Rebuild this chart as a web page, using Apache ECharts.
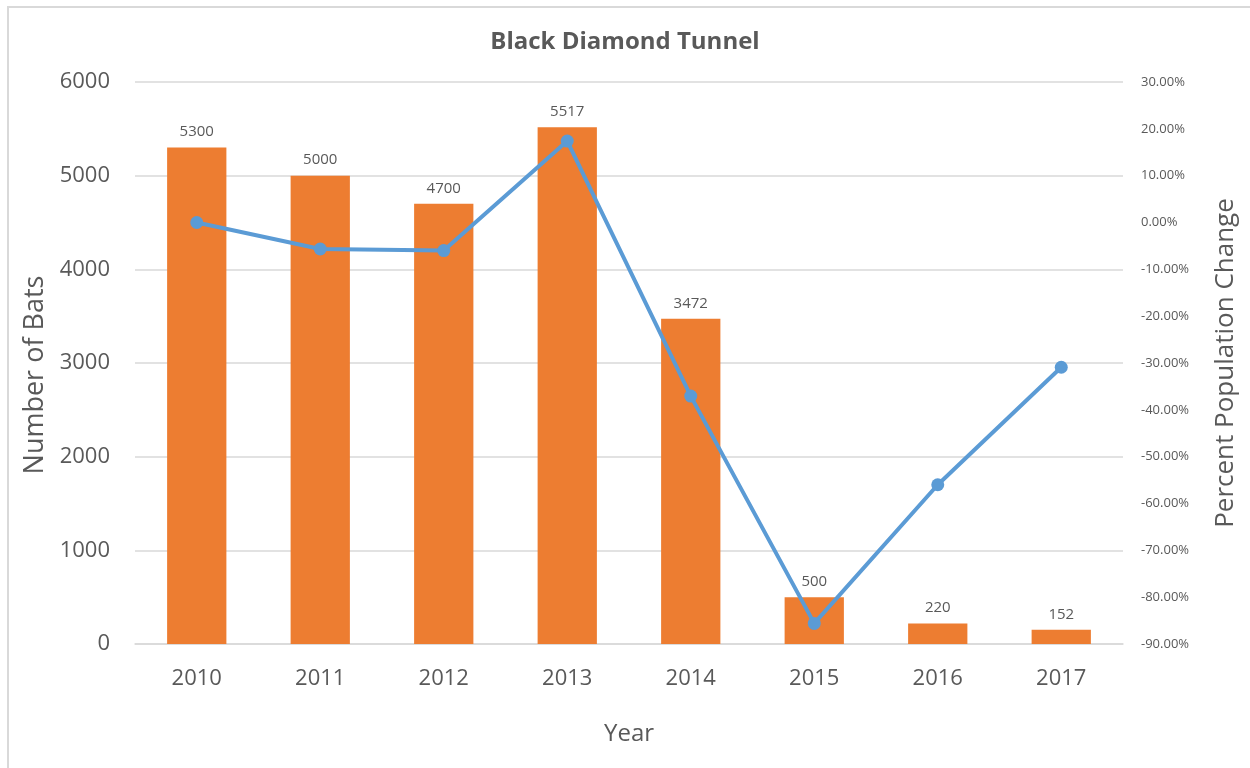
<!DOCTYPE html>
<html>
<head>
<meta charset="utf-8">
<title>Black Diamond Tunnel</title>
<script src="https://cdn.jsdelivr.net/npm/echarts@6/dist/echarts.min.js"></script>
<style>
  html, body { margin: 0; padding: 0; background: #fff; }
  #chart { width: 1250px; height: 768px; }
</style>
</head>
<body>
<div id="chart"></div>
<script>
// Bat counts per survey year and year-over-year percent change
const years = ['2010', '2011', '2012', '2013', '2014', '2015', '2016', '2017'];
const batCounts = [5300, 5000, 4700, 5517, 3472, 500, 220, 152];
const percentChange = [0, -5.66, -6.00, 17.38, -37.07, -85.60, -56.00, -30.91];

const FONT = '"Open Sans", "Liberation Sans", sans-serif';
const TEXT = '#595959';

const chart = echarts.init(document.getElementById('chart'));
chart.setOption({
  animation: false,
  textStyle: { fontFamily: FONT },
  title: {
    text: 'Black Diamond Tunnel',
    left: 'center',
    top: 25,
    textStyle: { fontFamily: FONT, fontSize: 24, fontWeight: 'bold', color: TEXT }
  },
  graphic: [{
    type: 'rect',
    shape: { x: 8, y: 7, width: 1300, height: 800 },
    style: { fill: 'none', stroke: '#d9d9d9', lineWidth: 2 },
    silent: true
  }],
  grid: { left: 135, right: 127, top: 82, bottom: 124 },
  xAxis: {
    type: 'category',
    data: years,
    name: 'Year',
    nameLocation: 'middle',
    nameGap: 78,
    nameTextStyle: { fontSize: 24, color: TEXT },
    axisLine: { lineStyle: { color: '#d9d9d9', width: 1.5 } },
    axisTick: { show: false },
    axisLabel: { fontSize: 22, color: TEXT, margin: 24 }
  },
  yAxis: [{
    type: 'value',
    min: 0,
    max: 6000,
    interval: 1000,
    name: 'Number of Bats',
    nameLocation: 'middle',
    nameGap: 86,
    nameTextStyle: { fontSize: 27, color: TEXT, padding: [0, 24, 0, 0] },
    axisLine: { show: false },
    axisTick: { show: false },
    axisLabel: { fontSize: 22, color: TEXT, margin: 25, formatter: v => String(v) },
    splitLine: { lineStyle: { color: '#d9d9d9', width: 1.5 } }
  }, {
    type: 'value',
    min: -90,
    max: 30,
    interval: 10,
    name: 'Percent Population Change',
    nameLocation: 'middle',
    nameGap: 90,
    nameTextStyle: { fontSize: 26, color: TEXT },
    axisLine: { show: false },
    axisTick: { show: false },
    splitLine: { show: false },
    axisLabel: {
      fontSize: 13,
      color: TEXT,
      margin: 18,
      formatter: v => v.toFixed(2) + '%'
    }
  }],
  series: [{
    type: 'bar',
    data: batCounts,
    yAxisIndex: 0,
    barWidth: '48%',
    itemStyle: { color: '#ED7D31' },
    label: {
      show: true,
      position: 'top',
      distance: 8,
      fontSize: 15,
      color: TEXT
    }
  }, {
    type: 'line',
    data: percentChange,
    yAxisIndex: 1,
    symbol: 'circle',
    symbolSize: 13,
    lineStyle: { color: '#5B9BD5', width: 4 },
    itemStyle: { color: '#5B9BD5' }
  }]
});
</script>
</body>
</html>
